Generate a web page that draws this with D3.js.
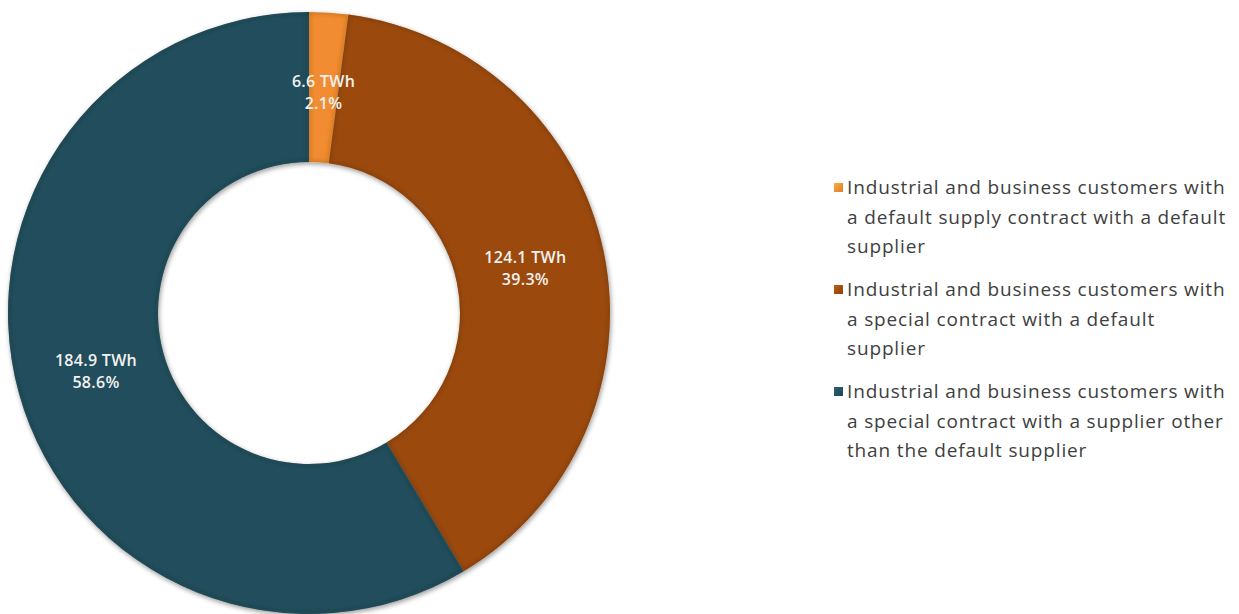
<!DOCTYPE html>
<html>
<head>
<meta charset="utf-8">
<script src="https://cdn.jsdelivr.net/npm/d3@7"></script>
<style>
  html, body { margin: 0; padding: 0; background: #ffffff; }
  svg { display: block; }
</style>
</head>
<body>
<svg id="chart" width="1239" height="614"></svg>
<script>
// Electricity volumes by customer/contract type
const categories = [
  "Industrial and business customers with a default supply contract with a default supplier",
  "Industrial and business customers with a special contract with a default supplier",
  "Industrial and business customers with a special contract with a supplier other than the default supplier"
];
const legendLines = [
  ["Industrial and business customers with", "a default supply contract with a default", "supplier"],
  ["Industrial and business customers with", "a special contract with a default", "supplier"],
  ["Industrial and business customers with", "a special contract with a supplier other", "than the default supplier"]
];
const volumesTWh = [6.6, 124.1, 184.9];
const sharesPct = [2.1, 39.3, 58.6];
const colors = ["#f28c30", "#9c4a0c", "#234e5c"];

const svg = d3.select("#chart");
const cx = 309, cy = 313, outerR = 301, innerR = 151;

const defs = svg.append("defs");

// soft outer shadow under the ring
const shadow = defs.append("filter").attr("id", "ringShadow")
  .attr("x", "-10%").attr("y", "-10%").attr("width", "120%").attr("height", "120%");
shadow.append("feGaussianBlur").attr("in", "SourceAlpha").attr("stdDeviation", 2.5).attr("result", "blur");
shadow.append("feOffset").attr("in", "blur").attr("dx", 1).attr("dy", 2).attr("result", "off");
shadow.append("feComponentTransfer").attr("in", "off").attr("result", "offA")
  .append("feFuncA").attr("type", "linear").attr("slope", 0.4);
const m = shadow.append("feMerge");
m.append("feMergeNode").attr("in", "offA");
m.append("feMergeNode").attr("in", "SourceGraphic");

// blur used for the soft edge shading inside each slice
defs.append("filter").attr("id", "edgeBlur")
  .attr("x", "-10%").attr("y", "-10%").attr("width", "120%").attr("height", "120%")
  .append("feGaussianBlur").attr("stdDeviation", 2);

// legend swatch gradients
colors.forEach((c, i) => {
  const g = defs.append("linearGradient").attr("id", "sw" + i)
    .attr("x1", "0").attr("y1", "0").attr("x2", "1").attr("y2", "1");
  g.append("stop").attr("offset", "0%").attr("stop-color", d3.color(c).brighter(0.6));
  g.append("stop").attr("offset", "100%").attr("stop-color", d3.color(c).darker(0.3));
});

const pie = d3.pie().sort(null).value(d => d)
  .startAngle(0).endAngle(2 * Math.PI);
const arcs = pie(volumesTWh);

const arc = d3.arc().innerRadius(innerR).outerRadius(outerR);
const labelArc = d3.arc().innerRadius(221).outerRadius(221);

arcs.forEach((d, i) => {
  defs.append("clipPath").attr("id", "clip" + i)
    .append("path").attr("d", arc(d));
});

const ring = svg.append("g")
  .attr("transform", `translate(${cx},${cy})`)
  .attr("filter", "url(#ringShadow)");

const slices = ring.selectAll("g.slice")
  .data(arcs)
  .join("g")
  .attr("class", "slice");

slices.append("path")
  .attr("d", arc)
  .attr("fill", (d, i) => colors[i]);

// darker soft rim inside each slice
slices.append("path")
  .attr("d", arc)
  .attr("clip-path", (d, i) => `url(#clip${i})`)
  .attr("fill", "none")
  .attr("stroke", (d, i) => d3.color(colors[i]).darker(0.9))
  .attr("stroke-width", 4)
  .attr("stroke-opacity", 0.55)
  .attr("filter", "url(#edgeBlur)");

// value labels
const labels = svg.append("g")
  .attr("transform", `translate(${cx},${cy})`)
  .attr("font-family", "'Open Sans', sans-serif")
  .attr("font-weight", 600)
  .attr("font-size", 16)
  .attr("letter-spacing", 0.3)
  .attr("fill", "#f2f2f2")
  .attr("text-anchor", "middle");

const fmt = d3.format(".1f");
arcs.forEach((d, i) => {
  const [x, y] = labelArc.centroid(d);
  const t = labels.append("text").attr("x", x).attr("y", y);
  t.append("tspan").attr("x", x).attr("dy", "-0.35em")
    .text(`${fmt(d.data)} TWh`);
  t.append("tspan").attr("x", x).attr("dy", "1.38em")
    .text(`${fmt(sharesPct[i])}%`);
});

// legend
const legend = svg.append("g")
  .attr("font-family", "'Open Sans', sans-serif")
  .attr("font-size", 19)
  .attr("letter-spacing", 0.85)
  .attr("fill", "#404040");

const lx = 834, ly = 188, lineH = 29.5, groupH = 102;
legendLines.forEach((lines, i) => {
  const gy = ly + i * groupH;
  legend.append("rect")
    .attr("x", lx).attr("y", gy - 5)
    .attr("width", 9).attr("height", 9)
    .attr("fill", `url(#sw${i})`);
  const t = legend.append("text").attr("x", lx + 13).attr("y", gy + 6);
  t.append("title").text(categories[i]);
  lines.forEach((s, j) => {
    t.append("tspan").attr("x", lx + 13).attr("y", gy + 6 + j * lineH).text(s);
  });
});
</script>
</body>
</html>
